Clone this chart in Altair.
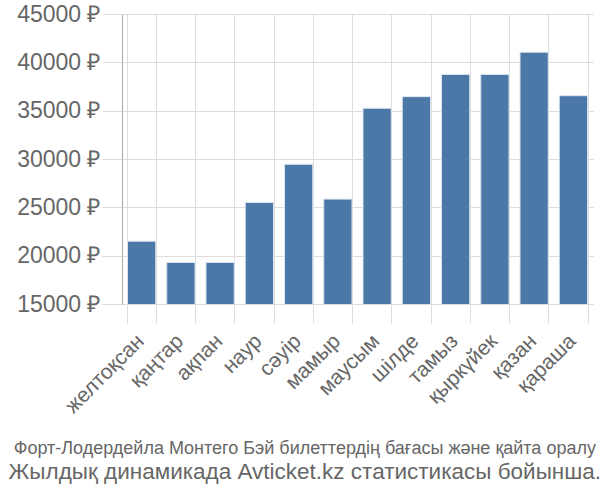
import altair as alt
import pandas as pd

months = ["желтоқсан", "қаңтар", "ақпан", "наур", "сәуір", "мамыр",
          "маусым", "шілде", "тамыз", "қыркүйек", "қазан", "қараша"]
prices = [21500, 19300, 19300, 25500, 29450, 25850,
          35250, 36450, 38750, 38750, 41050, 36550]
y_ticks = [15000, 20000, 25000, 30000, 35000, 40000, 45000]
title_line1 = "Форт-Лодердейла Монтего Бэй билеттердің бағасы және қайта оралу"
title_line2 = "Жылдық динамикада Avticket.kz статистикасы бойынша."

df = pd.DataFrame({"month": months, "price": prices})

chart = alt.Chart(df).mark_bar(
    color="#4C78A8", stroke="#dde6f0", strokeWidth=1, clip=True
).encode(
    x=alt.X("month:N", sort=months,
            scale=alt.Scale(paddingInner=0.28, paddingOuter=0.14),
            axis=alt.Axis(title=None, labelAngle=-45, labelFontSize=21,
                          labelFont="Liberation Sans", labelColor="#666666",
                          tickBand="extent", tickSize=19, tickColor="#dddddd",
                          domain=False, gridColor="#dddddd", grid=True,
                          labelPadding=7, labelOffset=-9)),
    y=alt.Y("price:Q",
            scale=alt.Scale(domain=[15000, 45000], nice=False, zero=False),
            axis=alt.Axis(title=None, values=y_ticks,
                          labelExpr="datum.value + ' ₽'",
                          labelFontSize=23, labelFont="Liberation Sans",
                          labelColor="#666666", tickSize=20,
                          tickColor="#dddddd", labelPadding=2,
                          domainColor="#aaaaaa", gridColor="#dddddd"))
).properties(
    width=471, height=290,
    autosize=alt.AutoSizeParams(type="none"),
    padding={"left": 122, "top": 14, "right": 7, "bottom": 196},
    title=alt.TitleParams(
        text=title_line1, subtitle=title_line2, orient="bottom",
        anchor="middle", frame="bounds",
        font="Liberation Sans", fontSize=18, fontWeight="normal",
        color="#666666", subtitleFont="Liberation Sans", subtitleFontSize=22.5,
        subtitleColor="#666666", subtitlePadding=3, offset=24)
).configure_view(stroke=None)

chart.save("out.html", embed_options={"renderer": "svg", "actions": False})
